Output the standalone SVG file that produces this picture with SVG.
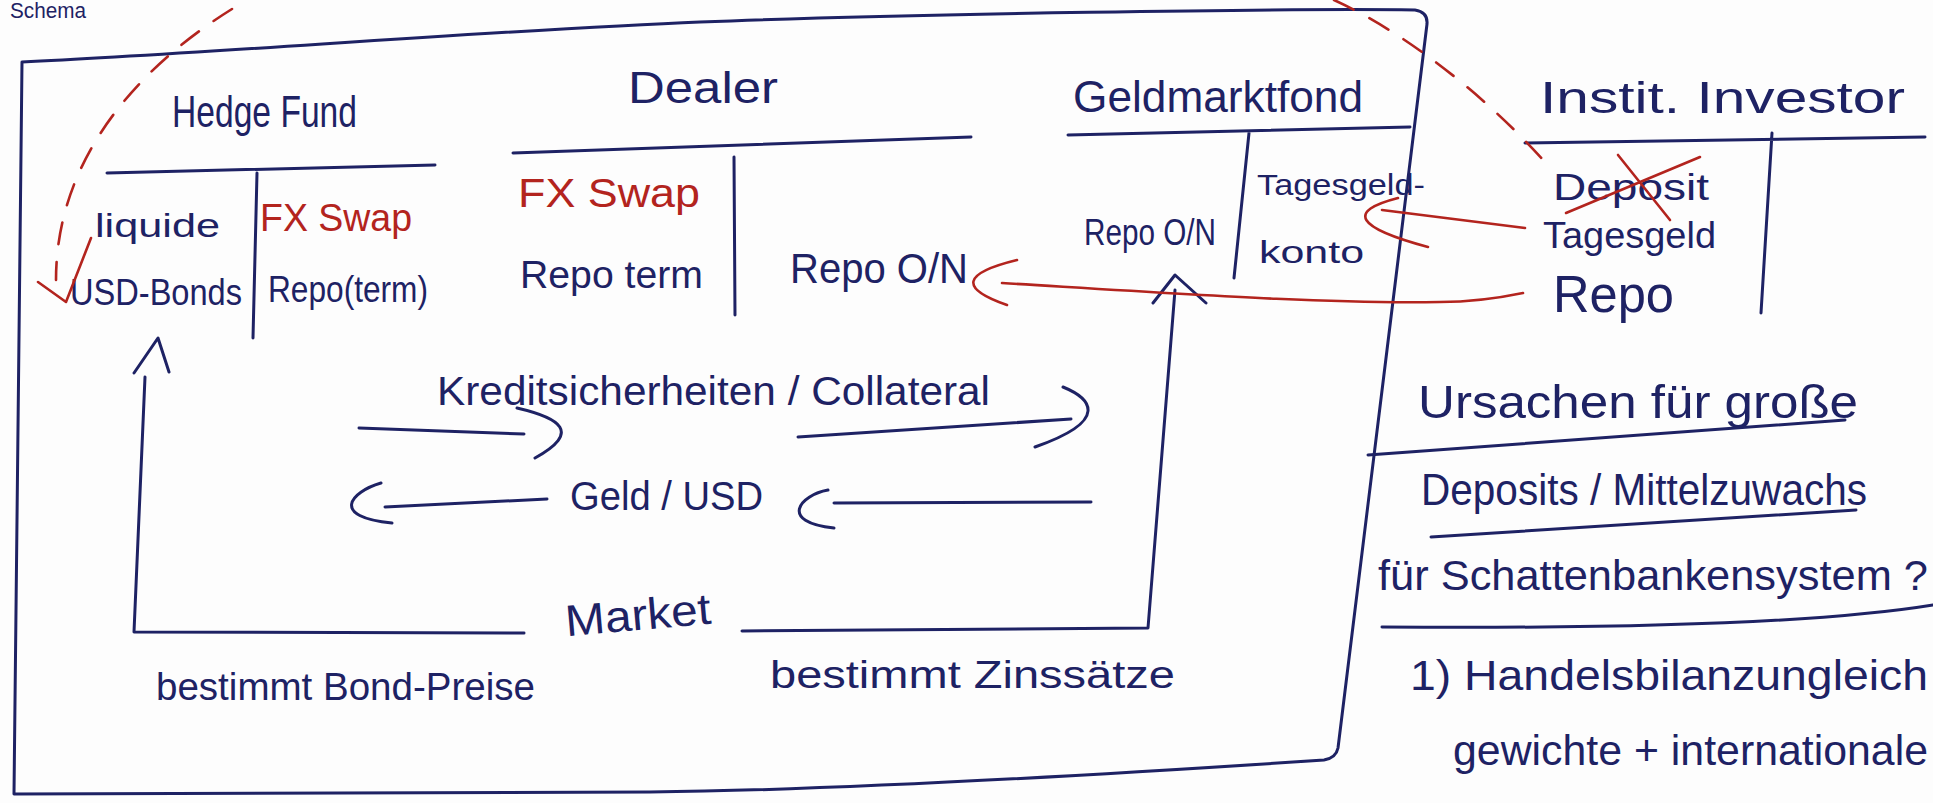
<svg xmlns="http://www.w3.org/2000/svg" width="1933" height="803" viewBox="0 0 1933 803">
  <style>
    .ink { fill: none; stroke: #1e2264; stroke-width: 3; stroke-linecap: round; stroke-linejoin: round; }
    .red { fill: none; stroke: #b3241e; stroke-width: 2.6; stroke-linecap: round; stroke-linejoin: round; }
    .dash { stroke-dasharray: 22 18; }
    .t { font-family: "Liberation Sans", "DejaVu Sans", sans-serif; fill: #1e2264; }
    .tr { fill: #b3241e; }
  </style>
  <rect width="1933" height="803" fill="#fdfdfd"/>

  <!-- page heading at the very top -->
  <text class="t" x="10" y="18" font-size="22" textLength="76" lengthAdjust="spacingAndGlyphs">Schema</text>

  <!-- outer frame around the funding system -->
  <path id="frame" class="ink" d="M22,62 C200,54 500,30 700,22 S1300,8 1415,10 Q1428,12 1427,24 L1387,350 L1338,748 Q1336,758 1324,760 C1100,775 850,790 650,792 L14,794 L22,62"/>

  <g id="hedge-fund">
    <text class="t" x="172" y="127" font-size="44" textLength="185" lengthAdjust="spacingAndGlyphs">Hedge Fund</text>
    <path class="ink" d="M107,173 L435,165 M257,173 L253,338"/>
    <text class="t" x="95" y="237" font-size="34" textLength="125" lengthAdjust="spacingAndGlyphs">liquide</text>
    <text class="t" x="70" y="305" font-size="36" textLength="172" lengthAdjust="spacingAndGlyphs">USD-Bonds</text>
    <text class="t tr" x="260" y="231" font-size="38" textLength="152" lengthAdjust="spacingAndGlyphs">FX Swap</text>
    <text class="t" x="268" y="302" font-size="36" textLength="160" lengthAdjust="spacingAndGlyphs">Repo(term)</text>
  </g>

  <g id="dealer">
    <text class="t" x="628" y="103" font-size="44" textLength="150" lengthAdjust="spacingAndGlyphs">Dealer</text>
    <path class="ink" d="M513,153 L971,137 M734,157 L735,315"/>
    <text class="t tr" x="518" y="207" font-size="40" textLength="182" lengthAdjust="spacingAndGlyphs">FX Swap</text>
    <text class="t" x="520" y="288" font-size="38" textLength="183" lengthAdjust="spacingAndGlyphs">Repo term</text>
    <text class="t" x="790" y="283" font-size="42" textLength="178" lengthAdjust="spacingAndGlyphs">Repo O/N</text>
  </g>

  <g id="geldmarktfond">
    <text class="t" x="1073" y="112" font-size="44" textLength="290" lengthAdjust="spacingAndGlyphs">Geldmarktfond</text>
    <path class="ink" d="M1068,135 L1410,127 M1249,133 L1234,278"/>
    <text class="t" x="1084" y="245" font-size="36" textLength="132" lengthAdjust="spacingAndGlyphs">Repo O/N</text>
    <text class="t" x="1257" y="195" font-size="30" textLength="168" lengthAdjust="spacingAndGlyphs">Tagesgeld-</text>
    <text class="t" x="1259" y="263" font-size="32" textLength="105" lengthAdjust="spacingAndGlyphs">konto</text>
  </g>

  <g id="instit-investor">
    <text class="t" x="1540" y="113" font-size="44" textLength="365" lengthAdjust="spacingAndGlyphs">Instit. Investor</text>
    <path class="ink" d="M1525,143 L1925,137 M1772,133 L1761,313"/>
    <text class="t" x="1553" y="200" font-size="36" textLength="156" lengthAdjust="spacingAndGlyphs">Deposit</text>
    <path class="red" d="M1566,213 L1700,157 M1618,155 L1670,220"/>
    <text class="t" x="1543" y="248" font-size="36" textLength="173" lengthAdjust="spacingAndGlyphs">Tagesgeld</text>
    <text class="t" x="1553" y="312" font-size="52" textLength="121" lengthAdjust="spacingAndGlyphs">Repo</text>
  </g>

  <g id="market">
    <text class="t" x="437" y="405" font-size="40" textLength="553" lengthAdjust="spacingAndGlyphs">Kreditsicherheiten / Collateral</text>
    <text class="t" x="570" y="510" font-size="40" textLength="193" lengthAdjust="spacingAndGlyphs">Geld / USD</text>
    <text class="t" x="565" y="630" font-size="44" textLength="146" lengthAdjust="spacingAndGlyphs" transform="rotate(-5 638 615)">Market</text>
    <text class="t" x="156" y="700" font-size="38" textLength="379" lengthAdjust="spacingAndGlyphs">bestimmt Bond-Preise</text>
    <text class="t" x="770" y="688" font-size="38" textLength="405" lengthAdjust="spacingAndGlyphs">bestimmt Zinssätze</text>
  </g>

  <g id="ursachen-notes">
    <text class="t" x="1418" y="418" font-size="46" textLength="440" lengthAdjust="spacingAndGlyphs">Ursachen für große</text>
    <path class="ink" d="M1368,455 L1845,420"/>
    <text class="t" x="1421" y="505" font-size="44" textLength="446" lengthAdjust="spacingAndGlyphs">Deposits / Mittelzuwachs</text>
    <path class="ink" d="M1431,537 L1856,510"/>
    <text class="t" x="1378" y="590" font-size="42" textLength="550" lengthAdjust="spacingAndGlyphs">für Schattenbankensystem ?</text>
    <path class="ink" d="M1382,627 Q1780,630 1933,605"/>
    <text class="t" x="1410" y="690" font-size="42" textLength="518" lengthAdjust="spacingAndGlyphs">1) Handelsbilanzungleich</text>
    <text class="t" x="1453" y="765" font-size="42" textLength="475" lengthAdjust="spacingAndGlyphs">gewichte + internationale</text>
  </g>

  <g id="connectors">
    <!-- market sets bond prices: up to the hedge fund -->
    <path class="ink" d="M524,633 L134,632 L145,377 M134,373 L158,338 L169,372"/>
    <!-- market sets rates: up to the money market fund -->
    <path class="ink" d="M742,631 L1148,628 L1175,290 M1153,303 L1175,275 L1206,303"/>
    <!-- collateral flows to the right -->
    <path class="ink" d="M359,428 L524,434 M517,408 C560,418 582,432 535,458"/>
    <path class="ink" d="M798,437 L1071,419 M1063,387 C1090,398 1112,420 1035,447"/>
    <!-- cash flows to the left -->
    <path class="ink" d="M385,507 L547,499 M381,483 C350,492 330,517 392,523"/>
    <path class="ink" d="M834,503 L1091,502 M828,490 C800,495 778,522 834,528"/>
    <!-- investor funding paths -->
    <path class="red" d="M1523,293 Q1480,302 1440,302 C1330,304 1200,295 1002,283 M1017,260 Q935,280 1007,305"/>
    <path class="red" d="M1525,228 L1382,210 M1398,198 Q1320,218 1428,247"/>
    <!-- dashed loop from the investor back to the hedge fund -->
    <path class="red dash" d="M1334,0 C1400,30 1480,90 1545,162"/>
    <path class="red dash" d="M232,9 C150,60 56,150 56,280"/>
    <path class="red" d="M38,282 L66,302 L91,238"/>
  </g>
</svg>
